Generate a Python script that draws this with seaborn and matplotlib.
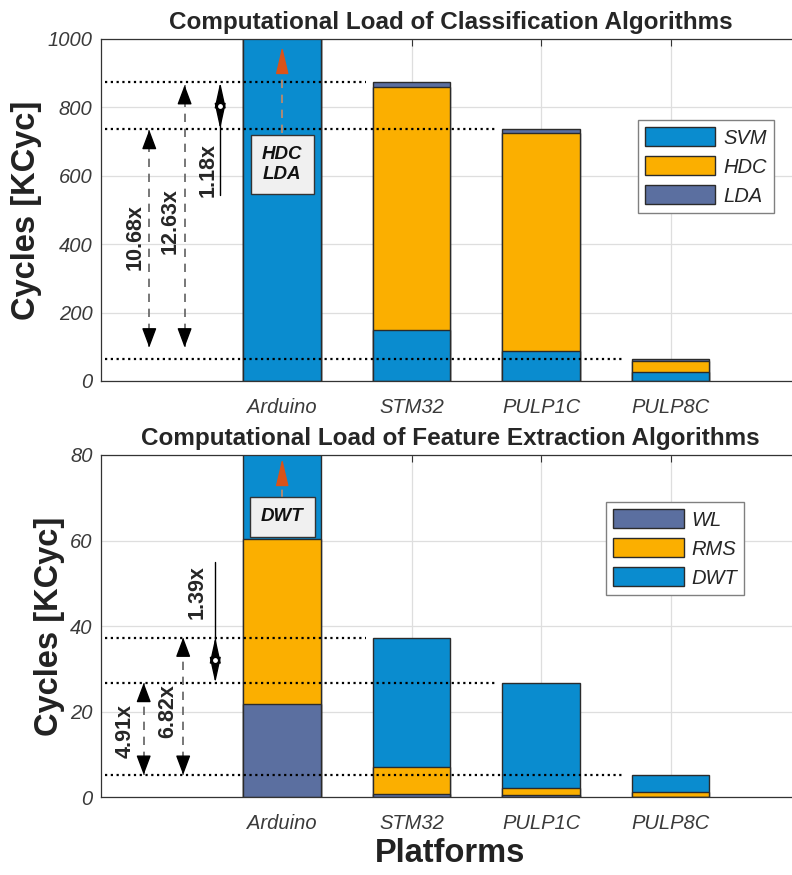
import numpy as np
import pandas as pd
import matplotlib
matplotlib.use('Agg')
import matplotlib.pyplot as plt
import seaborn as sns

sns.set_theme(style='white')
plt.rcParams['font.family'] = ['Liberation Sans', 'DejaVu Sans']

# ======================[[ data (KCyc) ]]======================
platforms = ['Arduino', 'STM32', 'PULP1C', 'PULP8C']

# classification, Arduino is far off the scale
svm = [2400, 148, 88, 26]
hdc = [700, 712, 636, 33]
lda = [15, 13, 13, 4]

# feature extraction, Arduino DWT is off the scale
wl = [21.7, 0.7, 0.5, 0.1]
rms = [38.6, 6.4, 1.5, 1.15]
dwt = [150, 30.2, 24.7, 3.95]

cls_ratios = ['10.68x', '12.63x', '1.18x']
fe_ratios = ['4.91x', '6.82x', '1.39x']

BLUE = '#0A8CCF'
ORANGE = '#FBAF00'
SLATE = '#5B6FA0'
EDGE = '#2b2b2b'


def stacked(ax, layers, colors):
    # draw cumulative totals from the top down so the lower ones sit on top
    cum = np.cumsum(np.array(layers, dtype=float), axis=0)
    for vals, col in zip(cum[::-1], colors[::-1]):
        d = pd.DataFrame({'platform': platforms, 'cycles': vals})
        sns.barplot(data=d, x='platform', y='cycles', color=col, saturation=1,
                    width=0.6, edgecolor=EDGE, linewidth=1, errorbar=None, ax=ax)
    return cum[-1]


def head(ax, x, tip, direction, color='black', hl=1.2, hw=0.45, ms=10):
    ax.annotate('', xy=(x, tip), xytext=(0, -direction * hl * ms), textcoords='offset points',
                arrowprops=dict(arrowstyle=f'-|>,head_length={hl},head_width={hw}',
                                color=color, lw=1, mutation_scale=ms, shrinkA=0, shrinkB=0),
                zorder=6)


def ratio_arrow(ax, x, lo, hi):
    ax.plot([x, x], [lo, hi], ls=(0, (5, 4)), color='#606060', lw=1.2, zorder=5)
    head(ax, x, hi, 1)
    head(ax, x, lo, -1)


def diamond(ax, x, lo, hi, tail):
    mid = (lo + hi) / 2
    ax.plot([x, x], [tail, mid], color='black', lw=1, zorder=5)
    for end in (hi, lo):
        ax.annotate('', xy=(x, end), xytext=(x, mid), arrowprops=dict(
            arrowstyle='-|>,head_length=1.6,head_width=0.35', color='black', lw=1,
            mutation_scale=10, shrinkA=0, shrinkB=0), zorder=6)
    ax.plot(x, mid, 'o', mfc='white', mec='black', ms=4.5, mew=1, zorder=7)


def offscale(ax, label, y_box, y_tip, hl):
    ax.text(0, y_box, label, ha='center', va='center', fontsize=13.5, fontweight='bold',
            style='italic', color='#111111', zorder=8,
            bbox=dict(boxstyle='square,pad=0.6', fc='#F0F0F0', ec='#333333', lw=1))
    head(ax, 0, y_tip, 1, color='#D95319', hl=hl, hw=0.4, ms=10)


def style_axes(ax, ymax, yticks, title):
    ax.set_xlim(-1.4, 4.0)
    ax.set_ylim(0, ymax)
    ax.set_yticks(yticks)
    ax.set_yticklabels([str(t) for t in yticks], fontsize=14.5, style='italic', color='#3a3a3a')
    ax.set_xticks(range(len(platforms)))
    ax.set_xticklabels(platforms, fontsize=14.5, style='italic', color='#3a3a3a')
    ax.tick_params(direction='in', length=5, width=0.8, top=True, right=True, color='#333333')
    ax.tick_params(axis='x', pad=12.5)
    ax.tick_params(axis='y', pad=6)
    ax.grid(True, color='#dedede', lw=0.9)
    ax.set_axisbelow(True)
    for s in ax.spines.values():
        s.set_color('#333333')
        s.set_linewidth(0.9)
    ax.set_title(title, fontsize=17.5, fontweight='bold', pad=7)
    ax.set_ylabel('Cycles [KCyc]', fontsize=23.5, fontweight='bold', labelpad=4, color='#222222')
    ax.set_xlabel('')


def legend(ax, labels, colors, anchor):
    handles = [matplotlib.patches.Patch(facecolor=c, edgecolor=EDGE, lw=1) for c in colors]
    leg = ax.legend(handles, labels, loc='upper left', bbox_to_anchor=anchor,
                    prop=dict(size=14.5, style='italic'), handlelength=3.5, handleheight=1.1,
                    labelspacing=0.42, handletextpad=0.4, borderpad=0.35, borderaxespad=0,
                    fancybox=False, framealpha=1, edgecolor='#808080')
    leg.get_frame().set_linewidth(1)


fig = plt.figure(figsize=(7.92, 8.75), dpi=100)
ax1 = fig.add_axes([0.1275, 0.5646, 0.8826, 0.3909])
ax2 = fig.add_axes([0.1275, 0.0891, 0.8826, 0.3909])

# =================[[ classification ]]=================
tot1 = stacked(ax1, [svm, hdc, lda], [BLUE, ORANGE, SLATE])
style_axes(ax1, 1000, [0, 200, 400, 600, 800, 1000],
           'Computational Load of Classification Algorithms')
legend(ax1, ['SVM', 'HDC', 'LDA'], [BLUE, ORANGE, SLATE], (0.768, 0.763))

for i in (1, 2, 3):
    ax1.plot([-1.37, i - 0.35], [tot1[i], tot1[i]], ls=(0, (1, 1.6)), color='black', lw=1.6, zorder=4)

ratio_arrow(ax1, -1.027, tot1[3] + 35, tot1[2] - 3)
ratio_arrow(ax1, -0.754, tot1[3] + 35, tot1[1] - 8)
diamond(ax1, -0.479, tot1[2], tot1[1], 544)
ax1.text(-1.139, 422, cls_ratios[0], rotation=90, ha='center', va='center', fontsize=15.5, fontweight='bold')
ax1.text(-0.865, 468, cls_ratios[1], rotation=90, ha='center', va='center', fontsize=15.5, fontweight='bold')
ax1.text(-0.571, 618, cls_ratios[2], rotation=90, ha='center', va='center', fontsize=15.5, fontweight='bold')

ax1.plot([0, 0], [725, 909], ls=(0, (5, 4)), color='#C98A66', lw=1.2, zorder=5)
offscale(ax1, 'HDC\nLDA', 633, 977, 1.7)

# =================[[ feature extraction ]]=================
tot2 = stacked(ax2, [wl, rms, dwt], [SLATE, ORANGE, BLUE])
style_axes(ax2, 80, [0, 20, 40, 60, 80],
           'Computational Load of Feature Extraction Algorithms')
legend(ax2, ['WL', 'RMS', 'DWT'], [SLATE, ORANGE, BLUE], (0.7225, 0.8626))
ax2.set_xlabel('Platforms', fontsize=23.5, fontweight='bold', labelpad=3, color='#222222')

for i in (1, 2, 3):
    ax2.plot([-1.37, i - 0.35], [tot2[i], tot2[i]], ls=(0, (1, 1.6)), color='black', lw=1.6, zorder=4)

ratio_arrow(ax2, -1.07, tot2[3], tot2[2])
ratio_arrow(ax2, -0.765, tot2[3], tot2[1])
diamond(ax2, -0.517, tot2[2], tot2[1], 54.9)
ax2.text(-1.21, 15.5, fe_ratios[0], rotation=90, ha='center', va='center', fontsize=15.5, fontweight='bold')
ax2.text(-0.883, 20.0, fe_ratios[1], rotation=90, ha='center', va='center', fontsize=15.5, fontweight='bold')
ax2.text(-0.656, 48.0, fe_ratios[2], rotation=90, ha='center', va='center', fontsize=15.5, fontweight='bold')

ax2.plot([0, 0], [70, 73.7], ls=(0, (5, 4)), color='#C98A66', lw=1.2, zorder=5)
offscale(ax2, 'DWT', 65.5, 79.1, 1.7)

fig.savefig('out.png', dpi=100)
